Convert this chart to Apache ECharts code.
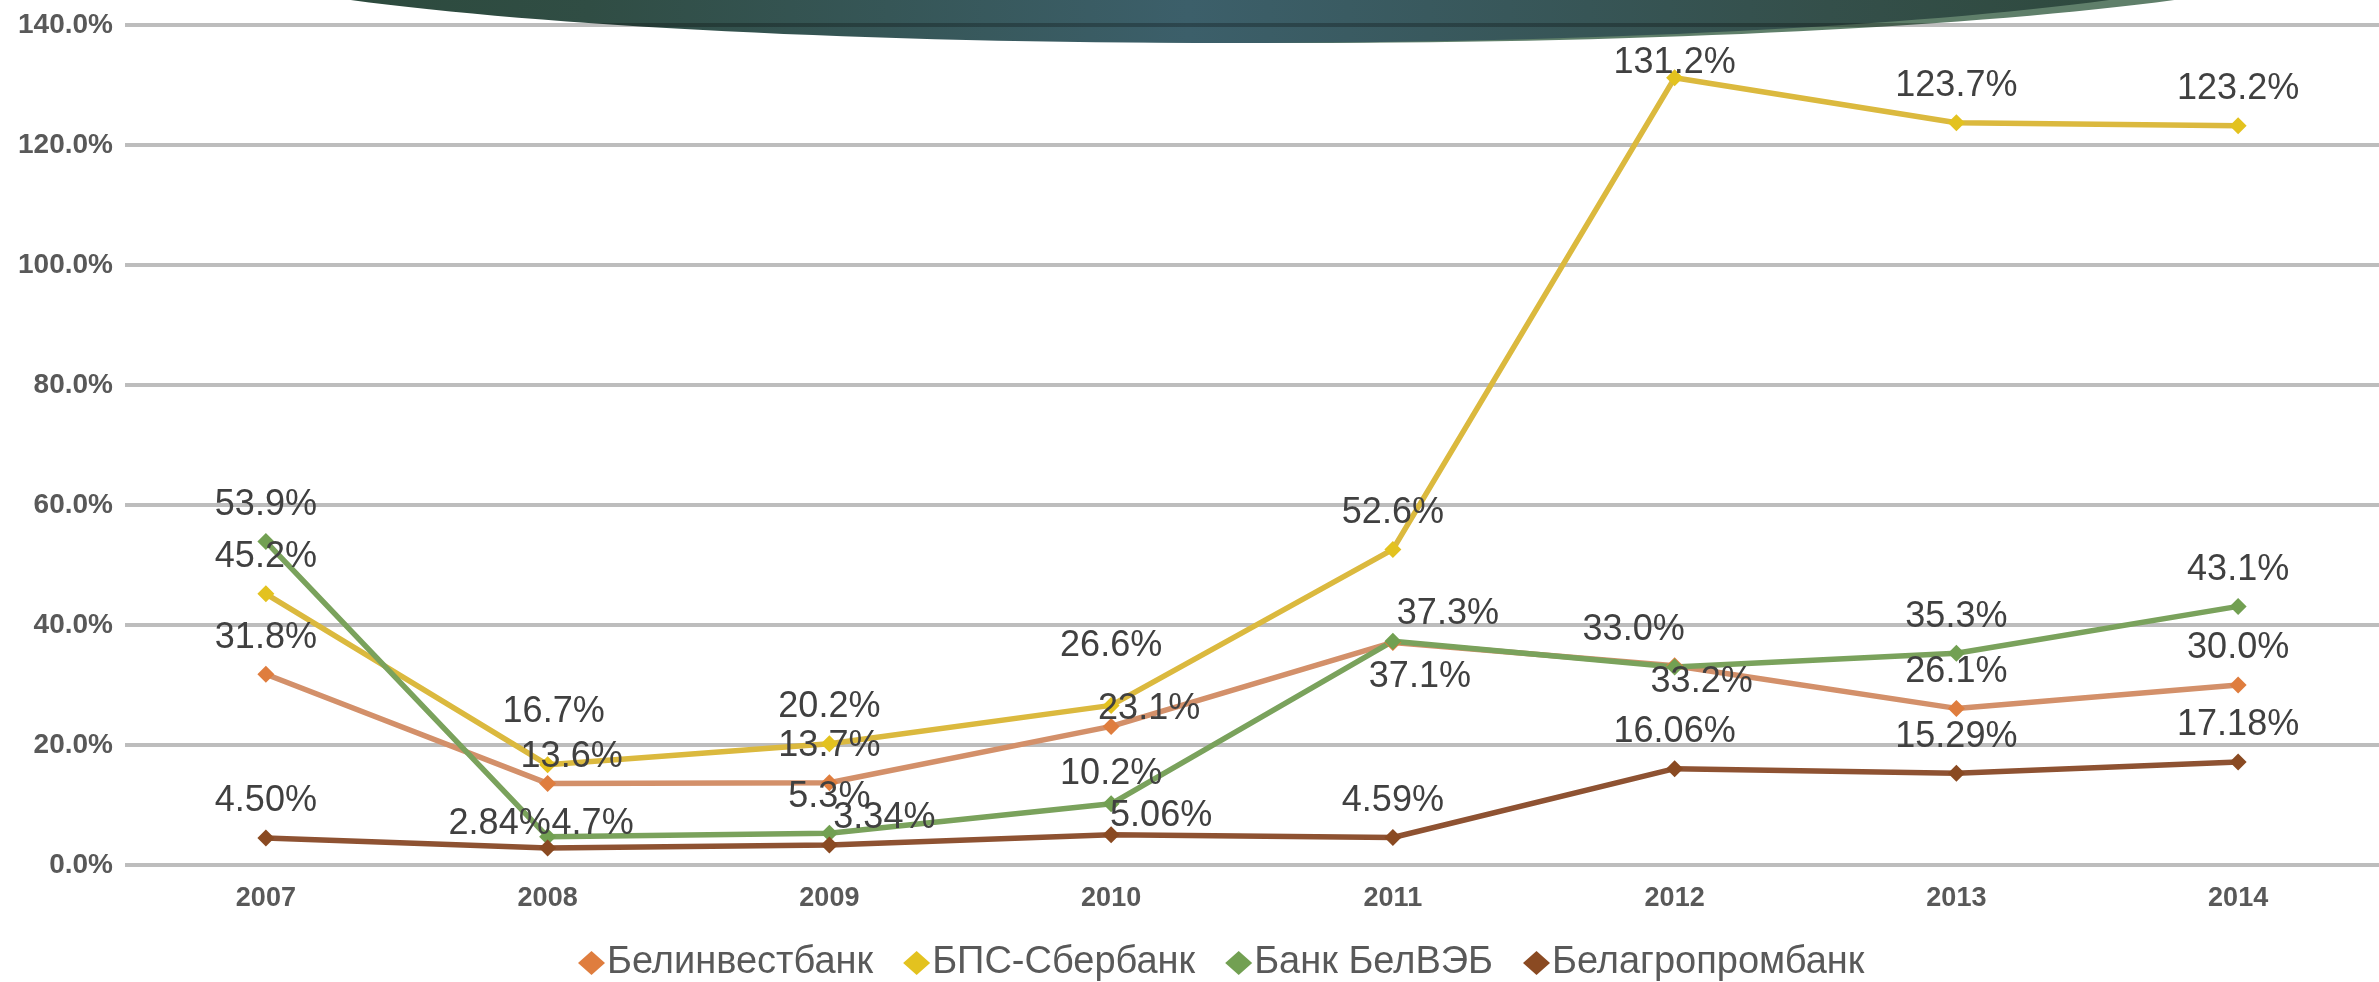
<!DOCTYPE html>
<html>
<head>
<meta charset="utf-8">
<script src="https://cdn.jsdelivr.net/npm/echarts@6/dist/echarts.min.js"></script>
<style>
html,body{margin:0;padding:0;background:#fff;}
#chart{width:2379px;height:982px;}
</style>
</head>
<body>
<div id="chart"></div>
<script>
// ---- data ----
const YEARS = ['2007', '2008', '2009', '2010', '2011', '2012', '2013', '2014'];
const SERIES_NAMES = ['Белинвестбанк', 'БПС-Сбербанк', 'Банк БелВЭБ', 'Белагропромбанк'];
const BELINVESTBANK = [31.8, 13.6, 13.7, 23.1, 37.1, 33.2, 26.1, 30.0];
const BPS_SBERBANK = [45.2, 16.7, 20.2, 26.6, 52.6, 131.2, 123.7, 123.2];
const BELVEB = [53.9, 4.7, 5.3, 10.2, 37.3, 33.0, 35.3, 43.1];
const BELAGROPROMBANK = [4.50, 2.84, 3.34, 5.06, 4.59, 16.06, 15.29, 17.18];
const LABEL_DECIMALS = [1, 1, 1, 2];
const Y_MIN = 0, Y_MAX = 140, Y_STEP = 20;

// ---- styling (separate from data) ----
const MARKER_COLORS = ['#df7d3e', '#e3c21f', '#72a052', '#8a4a22'];
const LINE_COLORS = ['#d3906a', '#dbb93e', '#7aa25c', '#8e5232'];
// label nudges [dx, dy] per series / category index (null = default)
const LABEL_NUDGE = [
  [null, [24, 10], null, [38, 19], [27, 71], [27, 53], null, null],
  [null, [6, -16], null, [0, -23], null, [0, 22], null, null],
  [null, [45, 24], null, [0, 7], [55, 9], [-41, 0], null, null],
  [null, [-48, 13], [55, 10], [50, 18], null, null, null, null]
];
const FONT = '"Liberation Sans", Arial, sans-serif';

const VALUES = [BELINVESTBANK, BPS_SBERBANK, BELVEB, BELAGROPROMBANK];

const chart = echarts.init(document.getElementById('chart'));

const series = SERIES_NAMES.map((name, s) => ({
  name: name,
  type: 'line',
  data: VALUES[s].map((v, i) => {
    const item = { value: v };
    const n = LABEL_NUDGE[s][i];
    if (n) item.label = { offset: n };
    return item;
  }),
  symbol: 'diamond',
  symbolSize: 17,
  lineStyle: { color: LINE_COLORS[s], width: 5.5 },
  itemStyle: { color: MARKER_COLORS[s] },
  label: {
    show: true,
    position: 'top',
    distance: 10,
    fontFamily: FONT,
    fontSize: 36,
    color: '#404040',
    formatter: (p) => p.value.toFixed(LABEL_DECIMALS[s]) + '%'
  },
  emphasis: { disabled: true },
  animation: false
}));

chart.setOption({
  backgroundColor: '#ffffff',
  animation: false,
  graphic: [
    {
      type: 'ellipse',
      z: -11,
      silent: true,
      shape: { cx: 1295, cy: -57, rx: 1070, ry: 100 },
      style: { fill: '#5f7f6a' }
    },
    {
      type: 'ellipse',
      z: -10,
      silent: true,
      shape: { cx: 1230, cy: -57, rx: 1070, ry: 100 },
      style: {
        fill: {
          type: 'linear', x: 0, y: 0, x2: 1, y2: 0,
          colorStops: [
            { offset: 0, color: '#2a4838' },
            { offset: 0.2, color: '#304d44' },
            { offset: 0.48, color: '#3c5f6a' },
            { offset: 0.78, color: '#344f4a' },
            { offset: 1, color: '#2b4636' }
          ]
        }
      }
    }
  ],
  grid: { left: 125, top: 25, width: 2264, height: 840, containLabel: false },
  legend: {
    data: SERIES_NAMES,
    left: 573,
    top: 939,
    icon: 'diamond',
    itemWidth: 27,
    itemHeight: 24,
    itemGap: 30,
    textStyle: { fontFamily: FONT, fontSize: 38, color: '#595959', padding: [0, 0, 0, -3] }
  },
  xAxis: {
    type: 'category',
    data: YEARS,
    boundaryGap: true,
    axisLine: { show: false },
    axisTick: { show: false },
    axisLabel: { fontFamily: FONT, fontSize: 27, fontWeight: 'bold', color: '#595959', margin: 20 }
  },
  yAxis: {
    type: 'value',
    min: Y_MIN,
    max: Y_MAX,
    interval: Y_STEP,
    axisLine: { show: false },
    axisTick: { show: false },
    splitLine: { lineStyle: { color: 'rgba(0,0,0,0.26)', width: 4 } },
    axisLabel: {
      fontFamily: FONT, fontSize: 28, fontWeight: 'bold', color: '#595959', margin: 12,
      formatter: (v) => v.toFixed(1) + '%'
    }
  },
  series: series
});
</script>
</body>
</html>
